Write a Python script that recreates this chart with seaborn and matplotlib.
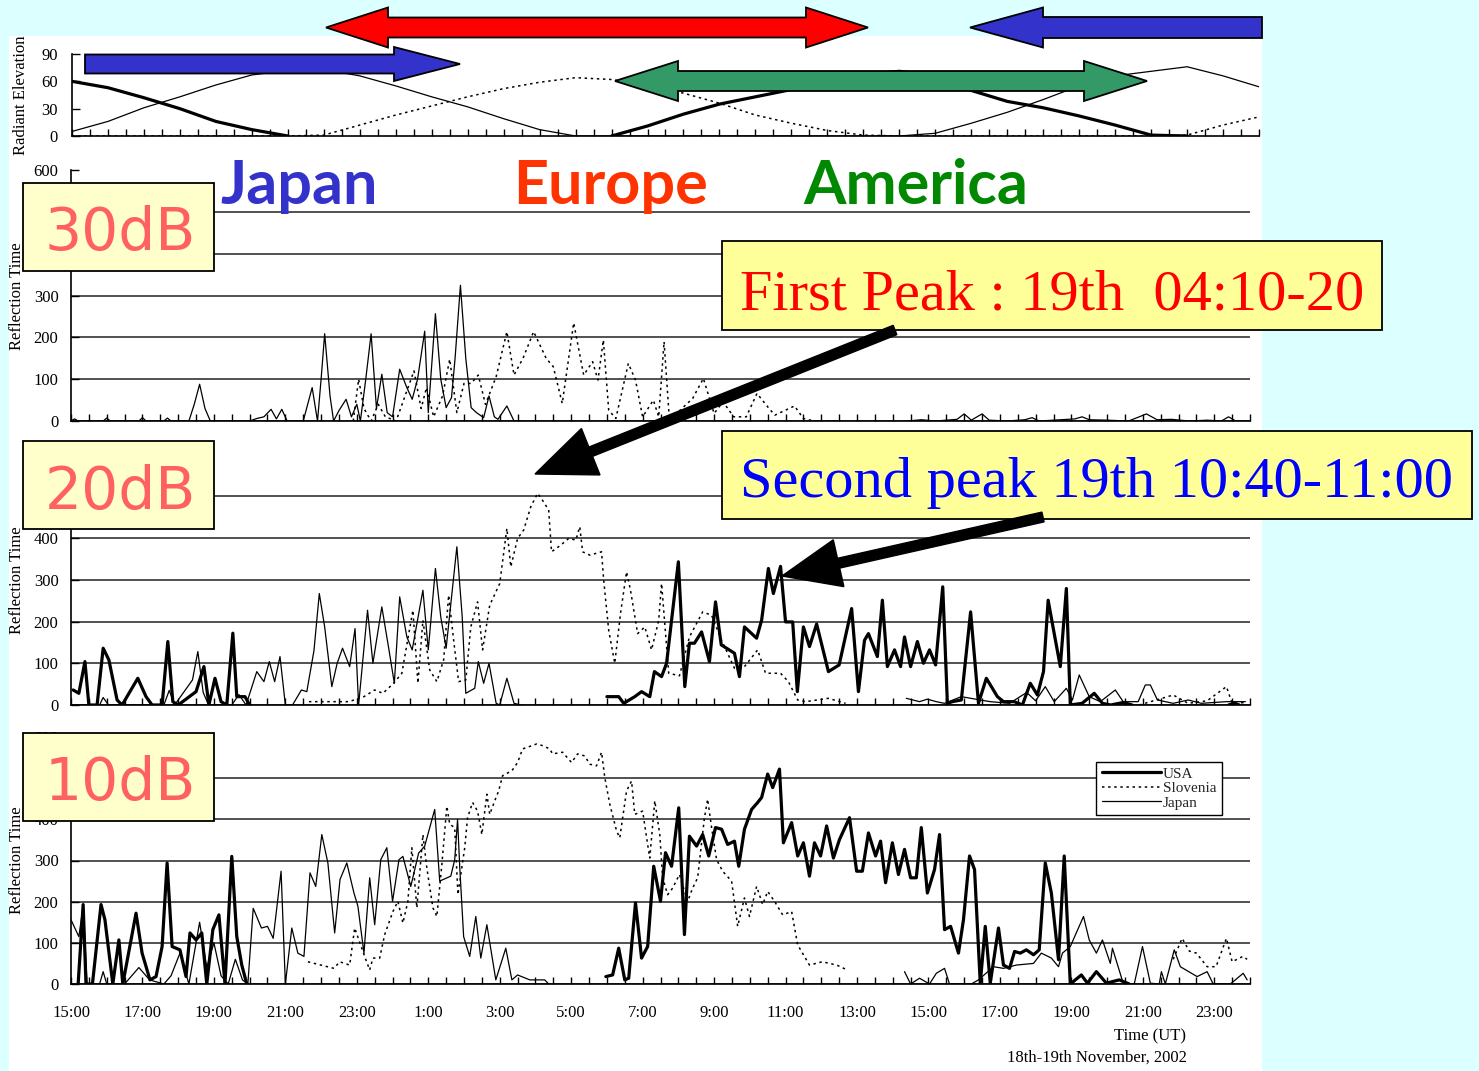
import numpy as np
import pandas as pd
import matplotlib.pyplot as plt
import seaborn as sns
from matplotlib.lines import Line2D
from matplotlib.patches import FancyArrow, Polygon, Rectangle

# time is in hours from 18 Nov 2002 00:00 UT (15 = 18th 15:00, 48 = 19th 24:00)
elev_hours = list(range(15, 49))
usa_elev = [60, 53, 42, 30, 16, 7, 0, None, None, None, None, None, None, None, None, 0,
            11, 24, 35, 43, 51, 60, 67, 71, 66, 50, 38, 31, 22, 12, 1, 0, None, None]
japan_elev = [5, 16, 31, 43, 56, 67, 72, 73, 66, 55, 43, 32, 19, 7, 0, 0, 0, 0, 0, 0, 0, 0, 0, 0,
              3, 14, 26, 40, 55, 66, 71, 76, 66, 54]
slovenia_elev = [0, 0, 0, 0, 0, 0, 0, 1, 12, 23, 33, 43, 52, 59, 64, 62, 56, 47, 36, 23, 14, 6, 1,
                 0, 0, 0, 0, 0, 0, 0, 0, 1, 12, 21]

# reflection time, (time, value) pairs, None = no echo recorded
japan_30 = [(15.0, 0), (15.1, 5), (15.2, 0), (15.9, 0), (16.0, 7), (16.1, 0), (16.9, 0), (17.0, 8), (17.1, 0),
            (17.6, 0), (17.7, 7), (17.8, 0), (18.3, 0), (18.45, 40), (18.6, 88), (18.75, 30), (18.9, 0),
            (20.0, 0), (20.2, 6), (20.4, 10), (20.6, 28), (20.75, 5), (20.9, 28), (21.05, 0), (21.5, 0),
            (21.75, 80), (21.9, 0), (22.0, 100), (22.1, 209), (22.25, 60), (22.35, 0), (22.5, 25), (22.7, 52),
            (22.85, 10), (23.0, 40), (23.1, 0), (23.25, 100), (23.4, 209), (23.55, 30), (23.7, 112), (23.85, 20),
            (24.0, 10), (24.2, 124), (24.4, 80), (24.55, 52), (24.7, 100), (24.9, 215), (25.0, 20), (25.2, 257),
            (25.35, 100), (25.5, 32), (25.65, 56), (25.75, 150), (25.9, 325), (26.05, 150), (26.2, 32),
            (26.35, 20), (26.55, 8), (26.7, 60), (26.85, 10), (26.95, 4), (27.2, 36), (27.4, 0), (27.6, 0), None,
            (38.4, 0), (38.8, 3), (39.2, 0), (39.8, 4), (40.0, 17), (40.2, 2), (40.5, 17), (40.7, 2), (41.2, 0),
            (41.7, 3), (41.9, 8), (42.1, 0), (42.7, 3), (43.1, 5), (43.3, 10), (43.5, 3), (44.0, 2), (44.6, 0),
            (44.9, 10), (45.1, 17), (45.4, 3), (45.8, 4), (46.3, 0), (46.8, 2), (47.2, 0), (47.4, 10), (47.6, 0),
            (47.95, 0)]
slovenia_30 = [(22.9, 0), (23.05, 100), (23.2, 30), (23.4, 0), (23.6, 40), (23.8, 10), (24.1, 0), (24.35, 60),
               (24.6, 120), (24.8, 30), (24.95, 80), (25.15, 10), (25.4, 60), (25.6, 148), (25.8, 20), (26.0, 90),
               (26.2, 90), (26.4, 110), (26.6, 40), (26.9, 106), (27.2, 214), (27.4, 110), (27.65, 150),
               (27.95, 214), (28.3, 150), (28.5, 130), (28.75, 42), (29.07, 235), (29.35, 110), (29.6, 142),
               (29.75, 98), (29.9, 194), (30.05, 26), (30.25, 6), (30.6, 138), (30.8, 98), (31.0, 10), (31.3, 50),
               (31.45, 10), (31.6, 190), (31.75, 2), (32.4, 54), (32.7, 102), (33.0, 18), (33.25, 46), (33.55, 10),
               (33.9, 10), (34.2, 66), (34.5, 34), (34.7, 14), (35.25, 36), (35.5, 6), (35.8, 0), (36.5, 0)]

usa_20 = [(15.06, 36), (15.22, 28), (15.39, 104), (15.5, 0), (15.73, 0), (15.9, 136), (16.06, 108), (16.29, 12),
          (16.43, 0), (16.87, 64), (17.1, 20), (17.27, 0), (17.55, 0), (17.71, 152), (17.85, 8), (18.0, 0),
          (18.5, 32), (18.72, 92), (18.86, 0), (19.03, 64), (19.2, 8), (19.36, 0), (19.53, 172), (19.64, 20),
          (19.87, 20), (20.0, 0), None,
          (30.0, 20), (30.33, 20), (30.47, 4), (30.78, 20), (30.97, 32), (31.2, 20), (31.33, 80), (31.53, 68),
          (31.67, 100), (32.0, 343), (32.18, 44), (32.31, 148), (32.45, 148), (32.65, 175), (32.87, 104),
          (33.04, 247), (33.2, 144), (33.57, 124), (33.71, 68), (33.85, 187), (34.19, 160), (34.33, 203),
          (34.52, 327), (34.66, 267), (34.86, 332), (35.0, 199), (35.2, 199), (35.33, 32), (35.5, 187),
          (35.67, 140), (35.87, 194), (36.2, 80), (36.5, 96), (36.85, 231), (37.04, 32), (37.21, 155),
          (37.32, 171), (37.57, 116), (37.71, 251), (37.85, 92), (38.05, 132), (38.22, 92), (38.33, 163),
          (38.5, 92), (38.69, 152), (38.86, 100), (39.03, 132), (39.2, 96), (39.4, 283), (39.53, 4), (39.67, 8),
          (39.92, 12), (40.18, 223), (40.4, 4), (40.62, 64), (40.93, 20), (41.1, 8), (41.4, 8), (41.63, 0),
          (41.85, 52), (42.05, 24), (42.22, 80), (42.35, 251), (42.52, 171), (42.69, 92), (42.86, 279),
          (42.97, 0), (43.3, 4), (43.64, 28), (43.87, 4), (44.1, 0), (44.45, 6), (44.7, 0), None,
          (47.4, 0), (47.55, 4), (47.7, 0)]
japan_20 = [(15.0, 0), (15.8, 0), (15.9, 18), (16.05, 0), (17.6, 0), (17.75, 35), (17.9, 0), (18.4, 60),
            (18.55, 128), (18.7, 30), (18.85, 0), (19.5, 0), (19.7, 25), (19.9, 0), (20.05, 40), (20.2, 80),
            (20.4, 56), (20.55, 104), (20.7, 56), (20.85, 116), (21.0, 0), (21.2, 0), (21.45, 36), (21.6, 32),
            (21.8, 130), (21.95, 267), (22.1, 187), (22.3, 44), (22.45, 100), (22.6, 136), (22.8, 92), (22.95, 183),
            (23.05, 0), (23.3, 227), (23.45, 100), (23.7, 235), (23.9, 132), (24.05, 52), (24.2, 259), (24.4, 163),
            (24.55, 132), (24.85, 275), (25.0, 132), (25.2, 327), (25.35, 211), (25.5, 136), (25.8, 379),
            (25.95, 211), (26.05, 28), (26.3, 40), (26.4, 104), (26.55, 52), (26.7, 100), (26.9, 4), (27.0, 0),
            (27.2, 64), (27.4, 4), (27.6, 0), None,
            (38.38, 16), (38.75, 8), (38.97, 14), (39.22, 8), (39.45, 4), (39.92, 20), (40.45, 12), (40.73, 8),
            (41.27, 4), (41.75, 30), (42.0, 10), (42.27, 44), (42.52, 8), (42.86, 40), (43.03, 12), (43.22, 72),
            (43.5, 20), (43.81, 8), (44.23, 36), (44.45, 8), (44.87, 8), (45.07, 48), (45.21, 48), (45.41, 12),
            (45.85, 4), (46.27, 12), (46.64, 4), (47.34, 8), (47.87, 8)]
slovenia_20 = [(21.66, 8), (22.78, 8), (23.2, 20), (23.5, 36), (23.73, 28), (24.03, 52), (24.26, 76), (24.57, 227),
               (24.71, 52), (24.85, 203), (25.04, 84), (25.24, 56), (25.43, 108), (25.57, 263), (25.71, 155),
               (25.85, 56), (26.05, 60), (26.19, 187), (26.38, 247), (26.52, 132), (26.72, 239), (27.0, 291),
               (27.2, 423), (27.31, 331), (27.5, 399), (27.67, 419), (27.87, 475), (28.06, 507), (28.2, 490),
               (28.37, 467), (28.45, 367), (28.71, 383), (28.93, 399), (29.13, 395), (29.24, 427), (29.32, 367),
               (29.52, 359), (29.85, 367), (29.91, 299), (30.05, 179), (30.22, 100), (30.38, 219), (30.55, 319),
               (30.66, 275), (30.86, 171), (31.06, 187), (31.25, 132), (31.45, 203), (31.53, 291), (31.73, 76),
               (32.03, 70), (32.31, 163), (32.68, 223), (32.93, 215), (33.21, 155), (33.57, 88), (33.85, 92),
               (34.22, 132), (34.44, 76), (34.86, 76), (35.08, 56), (35.34, 12), (35.56, 8), (36.2, 16), (36.68, 4),
               None, (44.9, 0), (45.3, 10), (45.85, 24), (46.27, 4), (46.8, 10), (47.34, 44), (47.5, 4), (47.9, 6)]

usa_10 = [(15.2, 0), (15.34, 193), (15.42, 0), (15.6, 0), (15.84, 193), (15.95, 156), (16.17, 0), (16.34, 107),
          (16.45, 0), (16.82, 172), (16.99, 75), (17.21, 10), (17.38, 18), (17.55, 91), (17.69, 294), (17.83, 91),
          (18.05, 83), (18.22, 18), (18.33, 124), (18.5, 107), (18.66, 124), (18.8, 0), (18.97, 132),
          (19.14, 168), (19.31, 0), (19.5, 310), (19.64, 115), (19.78, 46), (19.92, 0), None,
          (29.97, 18), (30.16, 22), (30.33, 87), (30.5, 10), (30.61, 14), (30.8, 197), (30.97, 63), (31.14, 91),
          (31.31, 286), (31.5, 201), (31.64, 319), (31.81, 286), (32.01, 428), (32.17, 120), (32.31, 359),
          (32.51, 335), (32.68, 363), (32.85, 311), (33.04, 380), (33.21, 376), (33.38, 339), (33.57, 347),
          (33.69, 286), (33.85, 376), (34.05, 424), (34.22, 441), (34.33, 453), (34.5, 510), (34.64, 477),
          (34.83, 522), (34.94, 343), (35.17, 392), (35.34, 311), (35.5, 343), (35.67, 262), (35.81, 343),
          (35.98, 311), (36.15, 384), (36.34, 306), (36.51, 351), (36.79, 404), (36.99, 274), (37.15, 274),
          (37.32, 367), (37.52, 311), (37.66, 347), (37.8, 246), (37.99, 343), (38.16, 266), (38.33, 327),
          (38.5, 258), (38.66, 258), (38.8, 380), (38.97, 221), (39.17, 278), (39.31, 363), (39.45, 132),
          (39.62, 140), (39.84, 75), (39.98, 156), (40.15, 311), (40.29, 278), (40.45, 2), (40.59, 140),
          (40.73, 2), (40.96, 136), (41.1, 46), (41.27, 38), (41.41, 79), (41.57, 75), (41.74, 83), (41.94, 71),
          (42.1, 83), (42.27, 294), (42.44, 221), (42.64, 59), (42.8, 311), (42.97, 0), (43.28, 22), (43.45, 2),
          (43.7, 30), (43.98, 2), (44.34, 10), (44.62, 0)]
japan_10 = [(15.0, 156), (15.22, 115), (15.34, 190), (15.45, 0), (15.8, 0), (15.9, 30), (16.0, 0), (16.5, 0),
            (16.9, 40), (17.2, 10), (17.6, 0), (17.8, 20), (18.05, 75), (18.3, 0), (18.6, 150), (18.8, 40),
            (19.0, 100), (19.2, 20), (19.4, 0), (19.6, 60), (19.8, 10), (19.95, 0), (20.1, 184), (20.33, 136),
            (20.5, 140), (20.66, 111), (20.88, 274), (21.0, 0), (21.18, 136), (21.35, 75), (21.52, 67),
            (21.69, 270), (21.85, 237), (22.02, 363), (22.19, 294), (22.38, 124), (22.53, 254), (22.72, 294),
            (22.92, 221), (23.03, 189), (23.2, 75), (23.36, 258), (23.5, 144), (23.67, 302), (23.84, 331),
            (24.0, 201), (24.18, 302), (24.29, 310), (24.51, 237), (24.73, 318), (24.9, 335), (25.18, 424),
            (25.32, 250), (25.63, 262), (25.74, 302), (25.82, 400), (25.88, 285), (25.99, 115), (26.16, 67),
            (26.33, 164), (26.47, 63), (26.64, 144), (26.89, 10), (27.17, 87), (27.34, 10), (27.5, 22),
            (27.84, 10), (28.26, 10), (28.37, 0), None,
            (38.33, 30), (38.5, 0), (38.75, 14), (39.03, 0), (39.22, 26), (39.45, 38), (39.59, 0), (40.2, 0),
            (40.4, 10), (40.82, 42), (41.1, 38), (41.46, 46), (41.94, 50), (42.16, 75), (42.44, 63), (42.64, 42),
            (42.75, 75), (42.97, 91), (43.34, 164), (43.5, 107), (43.7, 75), (43.87, 107), (44.09, 50),
            (44.15, 87), (44.45, 2), (44.76, 0), (44.99, 91), (45.21, 2), (45.46, 0), (45.52, 30), (45.63, 0),
            (45.88, 83), (46.05, 42), (46.52, 18), (46.8, 30), (46.97, 0), (47.45, 0), (47.81, 26), (47.92, 10)]
slovenia_10 = [(21.63, 54), (22.36, 38), (22.52, 54), (22.8, 46), (22.94, 136), (23.22, 67), (23.36, 34),
               (23.45, 63), (23.64, 63), (23.78, 120), (24.01, 176), (24.15, 201), (24.29, 148), (24.43, 201),
               (24.54, 331), (24.68, 185), (24.85, 363), (24.96, 282), (25.13, 185), (25.24, 164), (25.38, 290),
               (25.52, 432), (25.6, 388), (25.74, 380), (25.83, 217), (26.02, 331), (26.1, 404), (26.24, 441),
               (26.38, 420), (26.5, 363), (26.64, 461), (26.72, 412), (26.86, 445), (26.97, 469), (27.08, 506),
               (27.34, 518), (27.5, 538), (27.64, 571), (28.03, 583), (28.2, 579), (28.4, 571), (28.48, 559),
               (28.76, 563), (29.01, 538), (29.18, 559), (29.38, 554), (29.52, 534), (29.71, 530), (29.85, 563),
               (29.94, 502), (30.08, 437), (30.27, 372), (30.36, 355), (30.55, 469), (30.69, 493), (30.78, 412),
               (31.0, 420), (31.14, 339), (31.2, 306), (31.34, 445), (31.48, 363), (31.56, 258), (31.7, 217),
               (31.84, 233), (32.03, 266), (32.26, 201), (32.4, 233), (32.54, 258), (32.73, 404), (32.82, 449),
               (32.93, 380), (33.07, 302), (33.24, 274), (33.49, 250), (33.66, 140), (33.85, 209), (33.99, 164),
               (34.19, 237), (34.36, 193), (34.5, 225), (34.69, 201), (34.92, 168), (35.17, 176), (35.34, 95),
               (35.67, 46), (36.03, 54), (36.43, 46), (36.73, 34), None,
               (45.85, 60), (46.1, 111), (46.3, 80), (46.5, 75), (46.8, 42), (47.05, 42), (47.34, 111),
               (47.5, 54), (47.8, 67), (47.92, 60)]

label_hours = list(range(15, 48, 2))
time_labels = ["15:00", "17:00", "19:00", "21:00", "23:00", "1:00", "3:00", "5:00", "7:00",
               "9:00", "11:00", "13:00", "15:00", "17:00", "19:00", "21:00", "23:00"]

sns.set_theme(style="white")
plt.rcParams["font.family"] = ["Liberation Serif", "DejaVu Serif"]

W, H = 1479, 1071
BG = "#dcffff"


def px_rect(x0, y0, x1, y1):
    return [x0 / W, 1 - y1 / H, (x1 - x0) / W, (y1 - y0) / H]


def as_frame(points):
    rows, seg = [], 0
    for p in points:
        if p is None:
            seg += 1
        else:
            rows.append((p[0], p[1], seg))
    return pd.DataFrame(rows, columns=["time", "value", "seg"])


STYLES = {
    "USA": dict(color="black", linewidth=2.3, linestyle="-"),
    "Slovenia": dict(color="black", linewidth=1.1, linestyle=(0, (1.6, 2.4))),
    "Japan": dict(color="black", linewidth=0.9, linestyle="-"),
}


def draw_series(ax, points, name):
    sns.lineplot(data=as_frame(points), x="time", y="value", units="seg", estimator=None,
                 sort=False, ax=ax, legend=False, **STYLES[name])


def style_axes(ax, ymax, yticks, ylabel, labels=False):
    ax.set_facecolor("white")
    ax.set_xlim(15, 48)
    ax.set_ylim(0, ymax)
    ax.set_yticks(yticks)
    ax.set_xticks(label_hours)
    ax.set_xticks(np.arange(15, 48.01, 0.5), minor=True)
    ax.set_xticklabels(time_labels if labels else [])
    for s in ["top", "right"]:
        ax.spines[s].set_visible(False)
    for s in ["left", "bottom"]:
        ax.spines[s].set_color("black")
        ax.spines[s].set_linewidth(1.2)
    ax.tick_params(axis="x", which="both", direction="in", length=5, width=1, color="black",
                   bottom=True, labelsize=12, labelcolor="black", pad=15)
    ax.tick_params(axis="y", direction="in", length=6, width=1, color="black",
                   left=True, labelsize=12, labelcolor="black", pad=9)
    ax.set_xlabel("")
    ax.set_ylabel(ylabel, fontsize=12, color="black")


fig = plt.figure(figsize=(W / 100, H / 100), dpi=100, facecolor=BG)
fig.add_artist(Rectangle((9 / W, 0), (1262 - 9) / W, (H - 36) / H, transform=fig.transFigure,
                         facecolor="white", edgecolor="none", zorder=-5))

# radiant elevation
ax0 = fig.add_axes(px_rect(72, 54, 1259, 136))
for name, vals in [("Japan", japan_elev), ("Slovenia", slovenia_elev), ("USA", usa_elev)]:
    pts = [(t, v) if v is not None else None for t, v in zip(elev_hours, vals)]
    draw_series(ax0, pts, name)
style_axes(ax0, 90, [0, 30, 60, 90], "Radiant Elevation")
ax0.tick_params(axis="y", pad=10)
ax0.yaxis.set_label_coords(-0.036, 0.5)

panels = [
    (px_rect(71, 170.5, 1250, 421), {"Slovenia": slovenia_30, "Japan": japan_30}),
    (px_rect(71, 454.5, 1250, 705), {"Slovenia": slovenia_20, "Japan": japan_20, "USA": usa_20}),
    (px_rect(71, 737, 1250, 984), {"Slovenia": slovenia_10, "Japan": japan_10, "USA": usa_10}),
]
axes = []
for i, (rect, series) in enumerate(panels):
    ax = fig.add_axes(rect)
    for name, pts in series.items():
        draw_series(ax, pts, name)
    style_axes(ax, 600, list(range(0, 700, 100)), "Reflection Time", labels=(i == 2))
    ax.grid(True, axis="y", color="#333333", linewidth=1.2)
    ax.get_ygridlines()[-1].set_visible(False)
    ax.set_axisbelow(True)
    ax.yaxis.set_label_coords(-0.039, 0.5)
    axes.append(ax)

handles = [Line2D([], [], **STYLES[n]) for n in ["USA", "Slovenia", "Japan"]]
leg = axes[2].legend(handles, ["USA", "Slovenia", "Japan"], loc="upper right",
                     bbox_to_anchor=(0.976, 0.9), borderaxespad=0, frameon=True, fancybox=False,
                     edgecolor="black", framealpha=1, fontsize=11, handlelength=3.9,
                     handletextpad=0.1, labelspacing=0.05, borderpad=0.35)
leg.get_frame().set_linewidth(1.0)

# annotation layer in pixel coordinates
ov = fig.add_axes([0, 0, 1, 1], zorder=10)
ov.set_xlim(0, W)
ov.set_ylim(H, 0)
ov.axis("off")

ov.text(1150, 1036, "Time (UT)", ha="center", va="center", fontsize=12, color="black")
ov.text(1097, 1058, "18th-19th November, 2002", ha="center", va="center", fontsize=12, color="black")


def block_arrow(tail, tip, yc, bh, hh, hl, color, double=False):
    d = 1 if tip > tail else -1
    base = tip - d * hl
    if double:
        base0 = tail + d * hl
        pts = [(tail, yc), (base0, yc - hh), (base0, yc - bh), (base, yc - bh), (base, yc - hh), (tip, yc),
               (base, yc + hh), (base, yc + bh), (base0, yc + bh), (base0, yc + hh)]
    else:
        pts = [(tail, yc - bh), (base, yc - bh), (base, yc - hh), (tip, yc), (base, yc + hh),
               (base, yc + bh), (tail, yc + bh)]
    ov.add_patch(Polygon(pts, closed=True, facecolor=color, edgecolor="black", linewidth=1.3))


block_arrow(326, 868, 27.5, 10, 20, 62, "#ff0000", double=True)
block_arrow(85, 460, 64, 9.5, 17, 66, "#3333cc")
block_arrow(1262, 970, 27.5, 10.5, 20, 73, "#3333cc")
block_arrow(615, 1147, 81, 10, 20, 63, "#339966", double=True)

for txt, x, col in [("Japan", 299, "#3333cc"), ("Europe", 611, "#ff3300"), ("America", 916, "#008800")]:
    ov.text(x, 204, txt, ha="center", va="baseline", fontsize=44, color=col,
            family=["Lato", "DejaVu Sans"], weight="bold")

for txt, y0, base in [("30dB", 183, 250), ("20dB", 441, 509), ("10dB", 733, 800)]:
    ov.add_patch(Rectangle((23, y0), 191, 88, facecolor="#ffffcc", edgecolor="black", linewidth=1.3))
    ov.text(120, base, txt, ha="center", va="baseline", fontsize=42, color="#ff6060",
            family=["DejaVu Sans"])

ov.add_patch(Rectangle((722, 241), 660, 89, facecolor="#ffff99", edgecolor="black", linewidth=1.3))
ov.text(1052, 310, "First Peak : 19th  04:10-20", ha="center", va="baseline", fontsize=42, color="#ff0000")
ov.add_patch(Rectangle((722, 431), 750, 88, facecolor="#ffff99", edgecolor="black", linewidth=1.3))
ov.text(1097, 497, "Second peak 19th 10:40-11:00", ha="center", va="baseline", fontsize=42, color="#0000ff")

ov.add_patch(FancyArrow(895, 330, 535 - 895, 474 - 330, width=10, head_width=50, head_length=60,
                        length_includes_head=True, color="black"))
ov.add_patch(FancyArrow(1043, 517, 782 - 1043, 576 - 517, width=10, head_width=48, head_length=58,
                        length_includes_head=True, color="black"))

fig.savefig("out.png", dpi=100, facecolor=fig.get_facecolor())
